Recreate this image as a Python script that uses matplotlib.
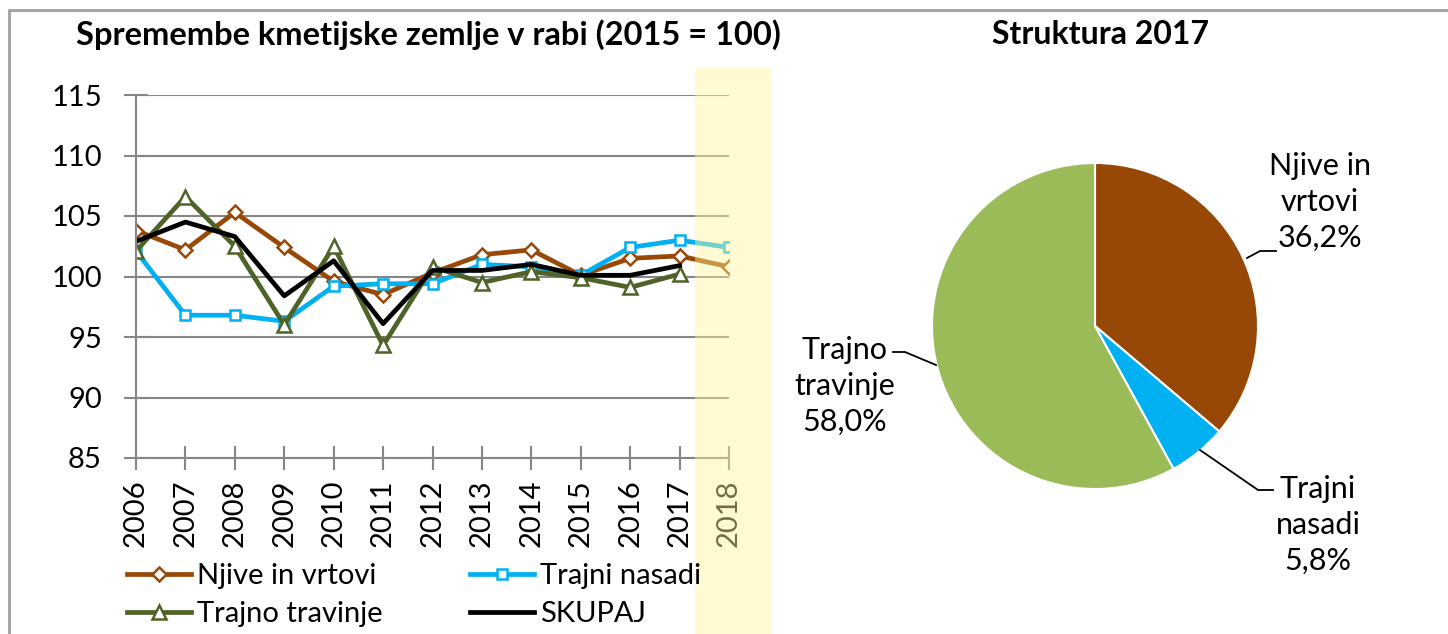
import matplotlib.pyplot as plt
import matplotlib.lines as mlines
import matplotlib.patches as mpatches
import numpy as np

plt.rcParams['font.family'] = ['Lato', 'DejaVu Sans']

years = [2006, 2007, 2008, 2009, 2010, 2011, 2012, 2013, 2014, 2015, 2016, 2017, 2018]
njive = [103.8, 102.2, 105.3, 102.4, 99.6, 98.5, 100.3, 101.8, 102.2, 100.1, 101.5, 101.7, 100.8]
nasadi = [102.1, 96.8, 96.8, 96.3, 99.2, 99.4, 99.4, 101.0, 100.8, 100.1, 102.4, 103.0, 102.4]
travinje = [102.1, 106.6, 102.5, 96.0, 102.5, 94.3, 100.8, 99.5, 100.4, 99.9, 99.1, 100.2, np.nan]
skupaj = [102.9, 104.5, 103.3, 98.4, 101.3, 96.1, 100.5, 100.5, 101.0, 100.1, 100.1, 100.9, np.nan]

pie_labels = ['Njive in\nvrtovi\n36,2%', 'Trajni\nnasadi\n5,8%', 'Trajno\ntravinje\n58,0%']
pie_values = [36.2, 5.8, 58.0]

BROWN = '#984807'
BLUE = '#00b0f0'
DGREEN = '#4f6228'
LGREEN = '#9bbb59'
PBROWN = '#974706'
GRID = '#868686'

W, H = 1448, 634
fig = plt.figure(figsize=(W / 100, H / 100), dpi=100)

# line chart
ax = fig.add_axes([136 / W, 1 - 458 / H, (729 - 136) / W, (458 - 95) / H])
ax.plot(years, njive, color=BROWN, lw=3.4, marker='D', ms=7, mfc='white', mec=BROWN, mew=1.8,
        label='Njive in vrtovi')
ax.plot(years, nasadi, color=BLUE, lw=3.4, marker='s', ms=7, mfc='white', mec=BLUE, mew=1.8,
        label='Trajni nasadi')
ax.plot(years, travinje, color=DGREEN, lw=3.4, marker='^', ms=10, mfc='white', mec=DGREEN, mew=1.8,
        label='Trajno travinje')
ax.plot(years, skupaj, color='black', lw=3.4, label='SKUPAJ')

ax.set_xlim(2006, 2018)
ax.set_ylim(85, 115)
ax.set_yticks(range(85, 116, 5))
ax.set_xticks(years)
ax.set_xticklabels([str(y) for y in years], rotation=90)
ax.grid(axis='y', color=GRID, lw=1.5)
ax.set_axisbelow(True)
for s in ['top', 'right']:
    ax.spines[s].set_visible(False)
for s in ['left', 'bottom']:
    ax.spines[s].set_color(GRID)
    ax.spines[s].set_linewidth(1.5)
ax.tick_params(axis='both', direction='inout', length=17, width=1.5, color=GRID, labelsize=21)
ax.tick_params(axis='y', pad=16)
ax.tick_params(axis='x', pad=7)
for lbl in ax.get_xticklabels():
    lbl.set_verticalalignment('top')

h, l = ax.get_legend_handles_labels()
order = [0, 2, 1, 3]
fig.legend([h[i] for i in order], [l[i] for i in order], loc='upper left',
           bbox_to_anchor=(127 / W, 1 - 563 / H), ncol=2, frameon=False, fontsize=21,
           handlelength=2.2, handletextpad=0.2, columnspacing=3.0, labelspacing=0.42,
           borderaxespad=0, borderpad=0)

fig.text(428 / W, 1 - 35 / H, 'Spremembe kmetijske zemlje v rabi (2015 = 100)', ha='center',
         va='center', fontsize=23.5, fontweight='bold')
fig.text(1101 / W, 1 - 35 / H, 'Struktura 2017', ha='center', va='center', fontsize=23,
         fontweight='bold')

# pie chart
R = 163
pax = fig.add_axes([(1095 - R) / W, 1 - (326 + R) / H, 2 * R / W, 2 * R / H])
pax.pie(pie_values, colors=[PBROWN, BLUE, LGREEN], startangle=90, counterclock=False,
        wedgeprops=dict(edgecolor='white', linewidth=1.5))
pax.set_xlim(-1, 1)
pax.set_ylim(-1, 1)
pax.set_aspect('auto')
pax.axis('off')


def px(x, y):
    return ((x - 1095) / R, (326 - y) / R)


label_pos = [(1320, 202), (1318, 525), (845, 386)]
leaders = [
    [(1247, 258), (1260, 251), (1276, 251)],
    [(1200, 450), (1258, 490), (1273, 490)],
    [(936, 365), (905, 352), (893, 352)],
]
for txt, pos, lead in zip(pie_labels, label_pos, leaders):
    x, y = px(*pos)
    pax.text(x, y, txt, ha='center', va='center', fontsize=22, linespacing=1.35, clip_on=False)
    xs, ys = zip(*[px(*p) for p in lead])
    pax.plot(xs, ys, color='black', lw=1.3, clip_on=False)

# highlighted 2018 area
fig.patches.append(mpatches.Rectangle((695 / W, 0), 76 / W, 1 - 68 / H, transform=fig.transFigure,
                                      facecolor='#fff59a', alpha=0.45, edgecolor='none', zorder=3))

# outer frame (left and top)
fig.lines.append(mlines.Line2D([9 / W, 9 / W, 1], [0, 1 - 10 / H, 1 - 10 / H],
                               transform=fig.transFigure, color='#a6a6a6', lw=2.2))

fig.savefig('out.png', dpi=100)
